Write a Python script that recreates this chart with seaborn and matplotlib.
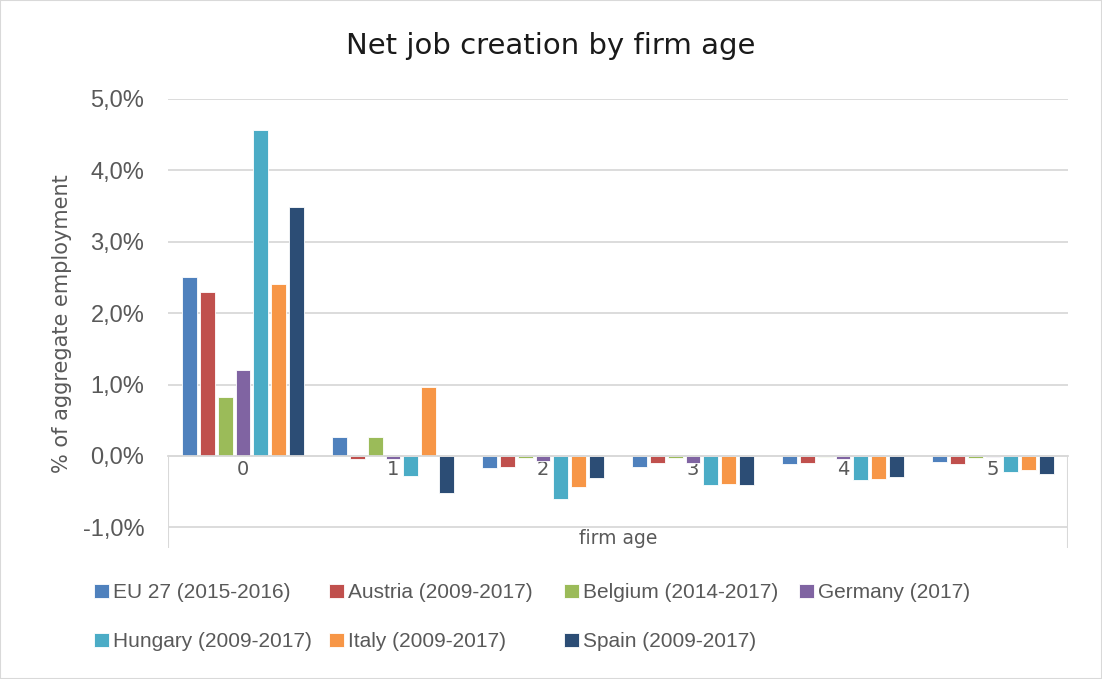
import matplotlib
matplotlib.use("Agg")
import matplotlib.pyplot as plt
import seaborn as sns
import pandas as pd
from matplotlib.patches import Rectangle
from matplotlib.ticker import FuncFormatter

# Net job creation as % of aggregate employment, by firm age
ages = ["0", "1", "2", "3", "4", "5"]
series_names = [
    "EU 27 (2015-2016)",
    "Austria (2009-2017)",
    "Belgium (2014-2017)",
    "Germany (2017)",
    "Hungary (2009-2017)",
    "Italy (2009-2017)",
    "Spain (2009-2017)",
]
eu27 = [2.50, 0.27, -0.17, -0.15, -0.11, -0.08]
austria = [2.30, -0.05, -0.16, -0.10, -0.10, -0.12]
belgium = [0.83, 0.27, -0.03, -0.03, -0.01, -0.03]
germany = [1.21, -0.04, -0.07, -0.10, -0.04, -0.02]
hungary = [4.56, -0.28, -0.60, -0.41, -0.34, -0.22]
italy = [2.41, 0.97, -0.43, -0.39, -0.33, -0.20]
spain = [3.49, -0.52, -0.31, -0.41, -0.30, -0.26]
colors = ["#4F81BD", "#C0504D", "#9BBB59", "#8064A2", "#4BACC6", "#F79646", "#2C4D75"]

values = [eu27, austria, belgium, germany, hungary, italy, spain]
rows = []
for name, vals in zip(series_names, values):
    for age, v in zip(ages, vals):
        rows.append({"age": age, "country": name, "value": v})
df = pd.DataFrame(rows)

sns.set_theme(style="white")
plt.rcParams["font.family"] = ["DejaVu Sans"]

fig = plt.figure(figsize=(11.02, 6.79), dpi=100)
ax = fig.add_axes([168 / 1102, 1 - 548 / 679, 900 / 1102, 449 / 679])

sns.barplot(data=df, x="age", y="value", hue="country", palette=colors,
            hue_order=series_names, order=ages, width=0.83, gap=0.18,
            edgecolor="white", linewidth=0.6, saturation=1, ax=ax, errorbar=None)

ymin = -1.29
ax.set_xlim(-0.5, 5.5)
ax.set_ylim(ymin, 5.0)
ax.set_yticks([-1, 0, 1, 2, 3, 4, 5])
ax.yaxis.set_major_formatter(FuncFormatter(lambda v, p: f"{v:.1f}%".replace(".", ",")))
ax.tick_params(axis="y", length=0, pad=17, labelsize=17, labelcolor="#595959",
               labelfontfamily="Liberation Sans")
ax.grid(axis="y", color="#D9D9D9", linewidth=1.3)
ax.set_axisbelow(True)

# category axis sits at zero
for s in ["top", "right", "left"]:
    ax.spines[s].set_visible(False)
ax.spines["bottom"].set_position(("data", 0))
ax.spines["bottom"].set_color("#D9D9D9")
ax.spines["bottom"].set_linewidth(1.3)
ax.tick_params(axis="x", length=0, pad=3, labelsize=14, labelcolor="#595959")
ax.axvline(-0.5, ymin=0, ymax=(0 - ymin) / (5.0 - ymin), color="#D9D9D9", lw=1.5)
ax.axvline(5.5, ymin=0, ymax=(0 - ymin) / (5.0 - ymin), color="#D9D9D9", lw=1.5)

ax.set_xlabel("firm age", fontsize=13.5, color="#595959")
ax.xaxis.set_label_coords(0.5, 0.042)
ax.set_ylabel("% of aggregate employment", fontsize=15, color="#595959", labelpad=8)

fig.text(0.5, 1 - 46 / 679, "Net job creation by firm age", ha="center", va="center",
         fontsize=21, color="#1a1a1a")

handles, labels = ax.get_legend_handles_labels()
ax.get_legend().remove()

# legend laid out as a 4-column grid with evenly spaced columns
col_x = [94, 329, 564, 799]
columns = [[0, 4], [1, 5], [2, 6], [3]]
for cx, idx in zip(col_x, columns):
    leg = fig.legend([handles[i] for i in idx], [labels[i] for i in idx],
                     loc="upper left", bbox_to_anchor=(cx / 1102, 1 - 583 / 679),
                     frameon=False, handlelength=0.7, handleheight=0.65,
                     handletextpad=0.2, labelspacing=1.45, borderpad=0, borderaxespad=0,
                     prop={"family": ["Liberation Sans", "DejaVu Sans"], "size": 15})
    for t in leg.get_texts():
        t.set_color("#595959")

fig.patches.append(Rectangle((0, 0), 1, 1, transform=fig.transFigure, fill=False,
                             edgecolor="#D9D9D9", linewidth=1.5))

fig.savefig("out.png", dpi=100, facecolor="white")
